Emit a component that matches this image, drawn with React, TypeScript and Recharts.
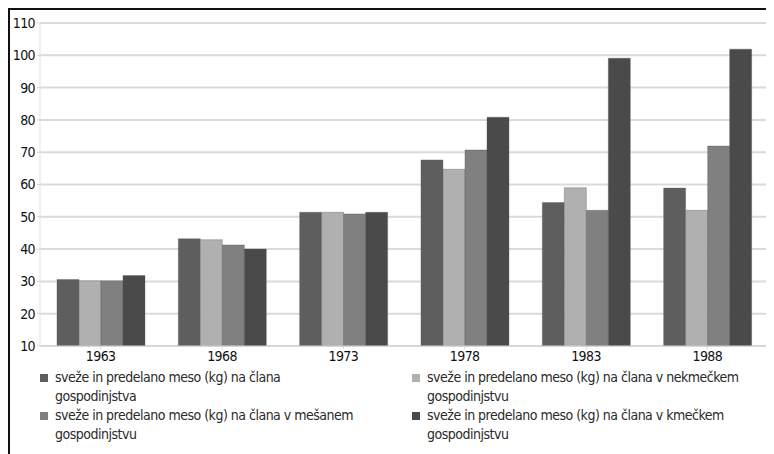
import { BarChart, Bar, XAxis, YAxis, CartesianGrid, Legend } from "recharts";

const years = ["1963", "1968", "1973", "1978", "1983", "1988"];
const vsi = [30.6, 43.2, 51.4, 67.6, 54.4, 58.9];
const nekmecki = [30.2, 42.9, 51.4, 64.7, 59.0, 52.0];
const mesani = [30.2, 41.3, 50.9, 70.7, 52.0, 71.9];
const kmecki = [31.8, 40.0, 51.4, 80.8, 99.1, 101.9];
const yTicks = [10, 20, 30, 40, 50, 60, 70, 80, 90, 100, 110];

const series = [
  { key: "vsi", color: "#5e5e5e", name: "sveže in predelano meso (kg) na člana\ngospodinjstva" },
  { key: "nekmecki", color: "#b0b0b0", name: "sveže in predelano meso (kg) na člana v nekmečkem\ngospodinjstvu" },
  { key: "mesani", color: "#808080", name: "sveže in predelano meso (kg) na člana v mešanem\ngospodinjstvu" },
  { key: "kmecki", color: "#4a4a4a", name: "sveže in predelano meso (kg) na člana v kmečkem\ngospodinjstvu" },
];

const data = years.map((y, i) => ({
  year: y,
  vsi: vsi[i],
  nekmecki: nekmecki[i],
  mesani: mesani[i],
  kmecki: kmecki[i],
}));

const FONT = "'Liberation Sans Narrow', 'DejaVu Sans Condensed', 'Roboto', sans-serif";

function LegendBox() {
  return (
    <div style={{ display: "grid", gridTemplateColumns: "372px 360px", fontFamily: FONT, fontSize: 14, letterSpacing: -0.5, color: "#2a2a2a", lineHeight: "19px", height: 76 }}>
      {series.map(s => (
        <div key={s.key} style={{ display: "flex", alignItems: "flex-start" }}>
          <span style={{ display: "inline-block", width: 8, height: 8, background: s.color, marginTop: 6, marginRight: 7, flexShrink: 0 }} />
          <span style={{ whiteSpace: "pre-line" }}>{s.name}</span>
        </div>
      ))}
    </div>
  );
}

export default function App() {
  return (
    <div style={{ width: 766, height: 446, borderTop: "2px solid #111", borderLeft: "2px solid #111", fontFamily: FONT }}>
      <BarChart width={764} height={444} data={data} margin={{ top: 13, right: 6, left: 0, bottom: 12 }}
        barCategoryGap="14%" barGap={0}>
        <CartesianGrid stroke="#dadada" strokeWidth={2} vertical={false} />
        <XAxis dataKey="year" stroke="#d6d6d6" tickLine={{ stroke: "#d6d6d6" }} interval={0}
          tick={{ fill: "#111", fontSize: 14, letterSpacing: -0.6, fontFamily: FONT }} tickSize={3} height={20} />
        <YAxis domain={[10, 110]} ticks={yTicks} width={30} stroke="#e2e2e2" tickLine={{ stroke: "#d6d6d6" }}
          tick={{ fill: "#111", fontSize: 14, letterSpacing: -0.6, fontFamily: FONT }} tickSize={3} allowDataOverflow />
        <Legend content={() => <LegendBox />} wrapperStyle={{ left: 30, top: 358, width: 740 }} />
        {series.map(s => (
          <Bar key={s.key} dataKey={s.key} name={s.name} fill={s.color} stroke="#555" strokeOpacity={0.35}
            isAnimationActive={false} />
        ))}
      </BarChart>
    </div>
  );
}
